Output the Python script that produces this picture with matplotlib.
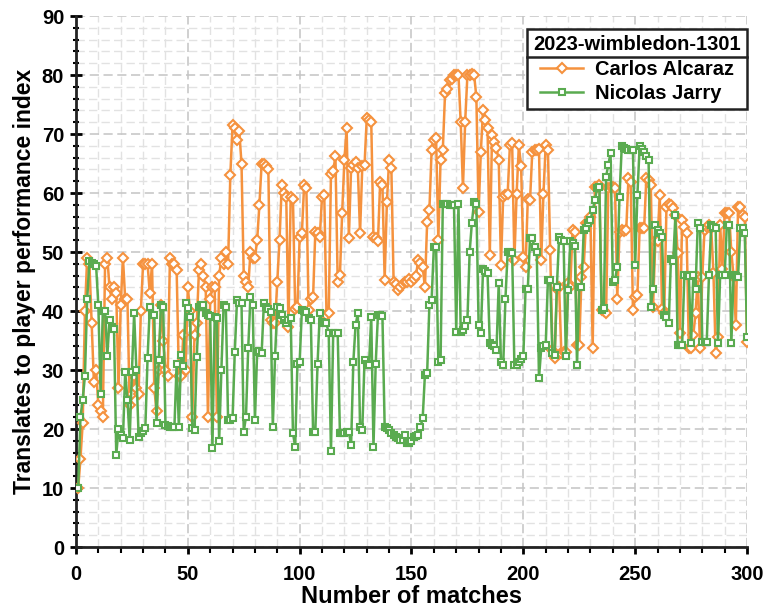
import matplotlib
matplotlib.use('Agg')
import matplotlib.pyplot as plt
from matplotlib.lines import Line2D
from matplotlib.ticker import MultipleLocator

# performance index per match
alcaraz = [
    10, 15, 21, 40, 49, 48, 38, 28, 30, 24,
    23, 22, 48, 49, 44, 42, 44, 43, 27, 41,
    49, 42, 42, 24, 26, 29, 27, 26, 40, 48,
    48, 48, 43, 48, 27, 23, 30, 41, 35, 30,
    29, 49, 48, 48, 47, 29, 29, 36, 30, 44,
    40, 22, 36, 38, 47, 48, 46, 44, 22, 42,
    44, 44, 22, 46, 49, 48, 50, 48, 63, 71.5,
    71, 69, 70.5, 65, 46, 45, 44, 50, 49, 49,
    52, 58, 65, 65, 64.5, 64, 38.5, 38, 38, 45,
    52, 61.4, 60, 59.4, 37.3, 59.4, 59, 40.4, 40.7, 52.6,
    53.2, 61.4, 60.8, 40.2, 42, 42.4, 53.4, 53.2, 52.6, 59.4,
    59.7, 39.3, 39.6, 63.3, 63.8, 66.2, 45, 46.1, 56.6, 65.6,
    71, 52.3, 64.2, 64.7, 65.3, 64.2, 53.2, 64.5, 64.7, 72.7,
    72.4, 72.1, 52.6, 52.3, 51.8, 61.9, 61.4, 45.3, 58.4, 65.6,
    64.2, 45, 44.5, 43.5, 44, 44.5, 45, 45, 45.5, 45,
    45.5, 46, 48.6, 48.1, 47.5, 44, 55.1, 57.1, 67.3, 69,
    69.3, 52.1, 65.6, 67.3, 76.9, 77.7, 79.2, 79.4, 80, 80,
    80, 72, 60.8, 72.1, 80, 80, 80.2, 80, 76.3, 56.8,
    67, 74.1, 72.4, 71, 49.5, 69.8, 68.7, 67.6, 65.6, 47.8,
    59.4, 59.7, 59.9, 68.1, 68.4, 48.6, 59.9, 68.1, 64.5, 49.2,
    47.5, 59, 58.8, 67, 67.3, 67.3, 67.5, 48.6, 59.9, 68.1,
    67.3, 50.3, 33.4, 32, 43.8, 44.1, 32.8, 33, 33, 44.7,
    44.1, 53.7, 53.4, 34.2, 34.2, 45.8, 47.5, 54.9, 55, 56,
    33.7, 61.1, 61, 61.4, 40.2, 40, 39.6, 60.8, 61, 61,
    60.8, 42.1, 53.4, 53.7, 53.5, 53.7, 62.5, 61.9, 40.2, 42.4,
    42.7, 54, 54, 54, 62.5, 62.2, 61.4, 40.7, 51.8, 51.8,
    59.7, 40.4, 39.6, 57.7, 58.2, 57.9, 57.4, 56.3, 49.8, 36.2,
    55.4, 54.3, 53.2, 33.7, 33.7, 36, 39.6, 45.8, 33.7, 45.8,
    53.7, 54.3, 54.6, 54, 46.4, 32.8, 35.6, 54.6, 47.2, 56.6,
    56.6, 56.6, 50, 45.8, 37.6, 57.7, 57.7, 56.3, 56, 34.8,
]

jarry = [
    10, 22, 25, 29, 42, 48.4, 48.2, 48, 47.6, 41,
    26, 40, 40, 32.4, 38.5, 37.3, 37, 15.6, 20, 19,
    18.4, 29.7, 25, 18.2, 29.7, 39.6, 30, 18.7, 19.4, 19.7,
    20.1, 32, 40.7, 39.3, 39.3, 21, 31.7, 41, 40.7, 20.7,
    20.5, 20.4, 20.4, 20.3, 31.1, 20.4, 32.5, 30.6, 41.3, 40.5,
    39, 20.1, 19.8, 32.2, 40.7, 41, 41, 39.6, 39.4, 39.2,
    16.7, 39, 38.8, 17.9, 30, 41, 40.7, 21.5, 21.6, 21.8,
    33.1, 41.9, 41.3, 41.3, 19.5, 22.1, 33.7, 42.4, 41, 21.5,
    33.1, 33.3, 32.8, 41.3, 40.7, 40.3, 39.9, 20.4, 32.3, 40.7,
    40.5, 39.3, 38.5, 37.9, 38.5, 38.8, 19.3, 17, 31.1, 31.4,
    40.2, 40, 39.9, 38.8, 38.5, 19.5, 19.5, 31.1, 39.6, 38.2,
    37.9, 37.9, 36.2, 16.2, 36.3, 36.3, 36.3, 19.3, 19.4, 19.4,
    19.5, 19.5, 17.3, 31.4, 37.6, 39.6, 20.4, 19.8, 31.7, 31,
    30.8, 39, 17, 31.1, 39.3, 39.3, 39.2, 20.4, 20.2, 19.8,
    19.3, 19, 18.7, 18.4, 18.2, 18.1, 19, 17.6, 17.6, 17.9,
    18.7, 18.9, 19, 20.4, 21.8, 29.2, 29.5, 41, 41.9, 50.9,
    50.9, 31.4, 31.7, 58.2, 58.2, 58.2, 58, 57.9, 58, 36.5,
    58.2, 36.5, 36.8, 37.5, 38.5, 50, 55, 58.5, 58.2, 37.6,
    36.2, 47.2, 46.8, 46.4, 34.5, 34.2, 34, 33.4, 44.7, 31.4,
    30.8, 42.1, 50, 50, 49.8, 30.8, 30.8, 31.4, 31.8, 32.3,
    43.8, 43.8, 52.3, 52.3, 50.9, 50, 28.6, 33.7, 34, 34.2,
    45.3, 45.3, 32.8, 32.5, 44.1, 52.6, 52, 51.8, 32.3, 43.6,
    51.8, 51.5, 51, 30.8, 44, 44, 53.7, 54, 54.9, 55.4,
    57.1, 58.8, 60.8, 61.1, 40.2, 40.5, 62.8, 64.8, 66.8, 45,
    45.3, 47.5, 59.4, 67.9, 67.6, 67.5, 67.3, 67.3, 67.3, 47.8,
    59.7, 67.9, 67.5, 67, 66.2, 65.6, 40.7, 43.8, 54.6, 53.7,
    53.2, 52.6, 39.3, 39, 37.9, 48.9, 48.4, 56.3, 34.2, 34.2,
    34.3, 46.1, 46.1, 46, 34.5, 46.1, 43.8, 54.9, 54, 34.8,
    34.8, 34.8, 46.1, 54.6, 54.3, 54, 34.5, 46.1, 46.1, 46.1,
    54.6, 54.6, 34.5, 46.1, 46, 45.8, 54, 54, 53.2, 35.6,
]

matches = list(range(1, len(alcaraz) + 1))

plt.rcParams['font.family'] = ['Liberation Sans', 'DejaVu Sans']
plt.rcParams['font.weight'] = 'bold'

fig = plt.figure(figsize=(7.66, 6.12), dpi=100)
ax = fig.add_axes([0.0992, 0.1062, 0.876, 0.8676])

orange = '#f5923e'
green = '#5aab50'

ax.plot(matches, alcaraz, color=orange, lw=1.8, marker='D', ms=5.5,
        mfc='white', mec=orange, mew=1.5, label='Carlos Alcaraz', zorder=3)
ax.plot(matches, jarry, color=green, lw=1.8, marker='s', ms=5,
        mfc='white', mec=green, mew=1.5, label='Nicolas Jarry', zorder=3)

ax.set_xlim(0, 300)
ax.set_ylim(0, 90)
ax.xaxis.set_major_locator(MultipleLocator(50))
ax.xaxis.set_minor_locator(MultipleLocator(10))
ax.yaxis.set_major_locator(MultipleLocator(10))
ax.yaxis.set_minor_locator(MultipleLocator(2))

ax.grid(which='major', color='#c4c4c4', ls=(0, (6, 3)), lw=1.1)
ax.grid(which='minor', color='#e2e2e2', ls=(0, (6, 3)), lw=1.0)
ax.set_axisbelow(True)

for s in ['top', 'right']:
    ax.spines[s].set_visible(False)
for s in ['left', 'bottom']:
    ax.spines[s].set_linewidth(2)
    ax.spines[s].set_color('#222222')

ax.tick_params(axis='x', which='major', direction='out', length=5, width=2,
               labelsize=14.5, pad=8)
ax.tick_params(axis='x', which='minor', direction='out', length=4, width=1.5)
ax.tick_params(axis='y', which='major', direction='inout', length=9, width=2,
               labelsize=14.5, pad=4)
ax.tick_params(axis='y', which='minor', direction='inout', length=5, width=1.5)
for lab in ax.get_xticklabels() + ax.get_yticklabels():
    lab.set_fontweight('bold')

ax.set_xlabel('Number of matches', fontsize=17, fontweight='bold', labelpad=1)
ax.set_ylabel('Translates to player performance index', fontsize=16.5,
              fontweight='bold', labelpad=4)

leg = ax.legend(loc='upper right', bbox_to_anchor=(1.0, 0.975),
                borderaxespad=0, fancybox=False, framealpha=1,
                edgecolor='#222222', fontsize=14.5, title='2023-wimbledon-1301',
                title_fontproperties={'weight': 'bold', 'size': 14.5},
                handlelength=2.1, handletextpad=0.6, borderpad=0.3,
                labelspacing=0.25)
leg.get_frame().set_linewidth(1.8)
for t in leg.get_texts():
    t.set_fontweight('bold')
# a bit of room between title and entries, like the boxed title of the original
leg._legend_box.sep = 4

# separator line under the legend title
fig.canvas.draw()
r = fig.canvas.get_renderer()
fb = leg.get_frame().get_window_extent(r)
tb = leg.get_title().get_window_extent(r)
hb = leg._legend_handle_box.get_window_extent(r)
ysep = (tb.y0 + hb.y1) / 2
inv = fig.transFigure.inverted()
(x0, y0), (x1, _) = inv.transform([(fb.x0, ysep), (fb.x1, ysep)])
fig.add_artist(Line2D([x0, x1], [y0, y0], transform=fig.transFigure,
                      color='#222222', lw=1.8, zorder=10))

fig.savefig('out.png', dpi=100)
